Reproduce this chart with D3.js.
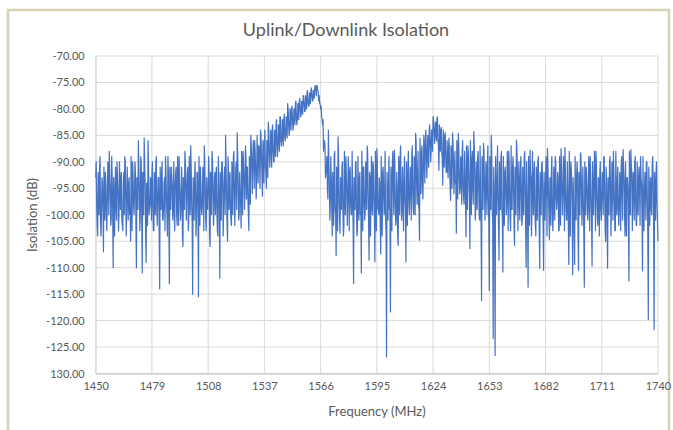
<!DOCTYPE html>
<html><head><meta charset="utf-8">
<script src="https://cdn.jsdelivr.net/npm/d3@7"></script>
<style>
html,body{margin:0;padding:0;background:#fff;}
svg{display:block;}
</style></head>
<body>
<div id="chart"></div>
<script>
const title = "Uplink/Downlink Isolation";
const xTitle = "Frequency (MHz)";
const yTitle = "Isolation (dB)";
const xTicks = [1450,1479,1508,1537,1566,1595,1624,1653,1682,1711,1740];
const yTicks = [-70,-75,-80,-85,-90,-95,-100,-105,-110,-115,-120,-125,-130];
const yTickLabels = ["-70.00","-75.00","-80.00","-85.00","-90.00","-95.00","-100.00","-105.00","-110.00","-115.00","-120.00","-125.00","130.00"];
const freqStart = 1450; // MHz
// samples at whole MHz (1450..1740)
const isolationWhole = [
-93,-104,-91,-99,-107,-92,-97,-88,-101,-110,
-95,-90,-100,-93,-103,-89,-98,-94,-105,-90,
-96,-110,-86,-100,-111,-85.5,-109,-86,-98,-92,
-103,-90,-97,-114,-92,-99,-89,-104,-113,-91,
-97,-94,-102,-89,-99,-106,-88,-96,-101,-87,
-115,-93,-100,-115.5,-91,-98,-87,-103,-95,-106,
-88,-99,-93,-104,-112,-90,-98,-85,-105,-94,
-102,-89,-96,-84.5,-100,-102.5,-88,-95,-91,-103,
-85,-91,-86,-93,-87,-84,-96.5,-86,-95,-82.5,
-89,-84,-90,-83,-87,-81.5,-86,-82,-85,-79,
-84,-80,-83,-79,-82,-78.5,-81,-77.5,-80.5,-77,
-79.5,-76.5,-78.5,-75.8,-75.5,-78.5,-80,-83,-86,-91,
-84,-98,-104,-89,-107.7,-85.3,-103.5,-91,-102.3,-89,
-97,-92,-100,-113,-90,-103,-93,-111,-91,-99,
-87,-108.6,-95,-90,-108.9,-87.5,-100,-107.4,-92,-97,
-126.9,-94,-118.4,-90,-87.8,-101,-105.8,-88.7,-97,-93,
-108.9,-91,-96,-89,-100,-84.6,-93,-104.8,-88,-91,
-86,-90,-84,-88,-81.4,-85.5,-81.8,-91.6,-84,-94.4,
-85,-92,-87,-97.3,-84.5,-93,-103.5,-84.6,-95,-88,
-98,-104.2,-87,-106.4,-90,-84.3,-99,-89,-101,-116.2,
-86.5,-97,-91,-114.3,-85,-123.4,-126.6,-93,-108.6,-89,
-110.8,-92,-98,-88,-103,-91,-105.8,-85.9,-97,-92,
-101,-89,-109.9,-113.7,-87.8,-99,-92,-104,-90,-110.1,
-90.6,-110.5,-94,-87.5,-104.7,-92,-100,-89,-97,-103,
-87.5,-95,-87.3,-101,-109.4,-90,-111.3,-109.4,-93,-110.5,
-88.3,-96,-113.7,-91,-99,-89,-109.7,-94,-88,-102,
-92,-97,-89,-105,-110.1,-90,-98,-88,-103,-94,
-99,-91,-87.7,-104,-93,-112.5,-87.7,-97,-90,-102,
-93,-89,-110.6,-96,-90,-119.8,-94,-91,-121.7,-92,
-105
];
// samples at f+0.25 MHz (1450.25..1739.25)
const isolationQ1 = [
-90,-92,-89,-93,-91,-94,-90,-92,-89,-93,
-91,-93,-90,-92,-94,-90,-91,-93,-89,-92,
-90,-93,-91,-89,-92,-90,-94,-91,-93,-90,
-92,-89,-93,-91,-90,-94,-92,-89,-91,-93,
-90,-92,-89,-94,-91,-93,-90,-92,-89,-91,
-93,-90,-92,-89,-94,-91,-90,-93,-89,-92,
-90,-93,-91,-89,-92,-90,-94,-91,-89,-92,
-90,-88,-91,-89,-92,-88,-90,-87,-91,-89,
-87,-86,-88,-85,-87,-85,-86,-84,-86,-84,
-84,-83,-84,-82,-83,-81.5,-82,-81,-81.5,-80,
-80,-79.5,-80,-78.5,-79,-78,-78.5,-77.5,-77.5,-76.5,
-77,-76,-76.5,-75.6,-75.8,-77.5,-79.5,-82,-87,-89,
-90,-89,-92,-88,-91,-89,-93,-90,-88,-92,
-89,-91,-88,-93,-90,-89,-92,-88,-91,-90,
-88,-92,-89,-91,-88,-90,-93,-89,-91,-88,
-92,-89,-91,-88,-90,-92,-89,-87,-91,-89,
-90,-88,-91,-87,-89,-86,-88,-85.5,-87,-85,
-84,-85,-83,-84,-82,-82.5,-81.5,-83,-83.5,-84,
-84.5,-86,-85.5,-87,-86,-88,-86,-87,-89,-86,
-88,-87,-89,-86,-88,-87,-90,-88,-87,-89,
-88,-90,-87,-89,-88,-91,-89,-87,-90,-88,
-89,-91,-88,-90,-87,-89,-91,-88,-90,-89,
-91,-88,-90,-89,-92,-88,-90,-91,-89,-92,
-90,-92,-89,-91,-93,-89,-91,-90,-92,-89,
-91,-89,-92,-90,-88,-91,-93,-89,-90,-92,
-89,-91,-90,-93,-89,-92,-90,-88,-91,-93,
-90,-92,-89,-91,-93,-89,-90,-92,-88,-91,
-92,-89,-91,-90,-93,-88,-91,-92,-89,-90,
-91,-93,-89,-92,-90,-91,-93,-89,-92,-90
];
// samples at f+0.5 MHz (1450.5..1739.5)
const isolationHalf = [
-98,-95,-102,-94,-96,-100,-91,-95,-93,-97,
-99,-96,-94,-101,-92,-97,-95,-100,-93,-98,
-92,-97,-95,-90,-98,-94,-96,-100,-94,-99,
-94,-99,-93,-96,-101,-93,-97,-92,-99,-95,
-100,-91,-95,-97,-93,-99,-95,-91,-96,-98,
-94,-97,-92,-96,-99,-94,-95,-98,-92,-97,
-95,-92,-99,-94,-97,-93,-91,-96,-92,-99,
-93,-95,-90,-94,-96,-91,-93,-89,-97,-92,
-90,-88,-92,-89,-91,-89,-88,-91,-87,-88,
-86,-88,-85,-87,-84,-86,-83,-85,-82,-83,
-81,-82,-80,-82,-79,-80,-79,-79,-78,-79,
-77,-77.5,-76.5,-76,-76.5,-79,-81.5,-88,-93,-95,
-94,-93,-97,-99,-95,-97,-94,-99,-95,-96,
-93,-98,-95,-97,-99,-96,-100,-94,-98,-95,
-96,-93,-99,-97,-95,-99,-94,-98,-96,-101,
-97,-99,-96,-94,-98,-95,-93,-96,-99,-97,
-95,-97,-93,-95,-91,-94,-98,-92,-94,-89,
-88,-87,-86,-84,-83.5,-83,-86,-85,-88,-87,
-89,-90,-91,-89,-90,-94,-91,-93,-90,-95,
-92,-94,-93,-91,-95,-92,-96,-94,-97,-93,
-95,-92,-97,-96,-99,-94,-97,-96,-94,-99,
-96,-95,-93,-97,-99,-94,-96,-92,-98,-95,
-97,-94,-96,-98,-93,-95,-99,-94,-96,-97,
-95,-98,-93,-96,-94,-99,-95,-97,-93,-98,
-96,-92,-98,-95,-97,-94,-99,-96,-92,-97,
-95,-98,-94,-96,-93,-97,-95,-92,-97,-94,
-99,-93,-96,-94,-98,-95,-92,-97,-95,-99,
-94,-96,-93,-98,-95,-97,-92,-95,-98,-94,
-96,-94,-99,-93,-97,-95,-99,-93,-96,-98
];
// samples at f+0.75 MHz (1450.75..1739.75)
const isolationQ3 = [
-102,-100,-104,-99,-101,-103,-100,-102,-99,-104,
-101,-103,-99,-102,-100,-104,-101,-99,-103,-100,
-102,-99,-103,-101,-100,-104,-102,-99,-101,-103,
-100,-102,-104,-99,-101,-103,-100,-102,-99,-101,
-103,-100,-102,-101,-104,-99,-101,-103,-100,-102,
-101,-104,-99,-102,-100,-103,-101,-99,-104,-100,
-102,-100,-103,-99,-101,-104,-100,-102,-99,-101,
-100,-102,-99,-101,-98,-100,-99,-97,-100,-98,
-96,-95,-97,-94,-95,-93,-94,-92,-93,-91,
-91,-90,-89,-89,-88,-87,-87,-86,-85.5,-85,
-84,-84,-83,-83,-82,-81.5,-81,-80.5,-80,-79.5,
-79,-78.5,-78,-77.5,-77,-79,-82,-86,-92,-97,
-101,-99,-102,-100,-103,-101,-99,-104,-100,-102,
-103,-100,-102,-99,-104,-101,-100,-103,-101,-99,
-102,-104,-100,-101,-103,-99,-102,-104,-100,-103,
-101,-99,-103,-100,-102,-104,-100,-101,-103,-99,
-102,-100,-101,-99,-100,-98,-99,-96,-97,-94,
-93,-91,-90,-88,-86.5,-86,-87,-88,-89.5,-91,
-92,-93,-94,-95,-96,-94,-97,-96,-98,-97,
-98,-99,-97,-100,-98,-101,-99,-100,-102,-99,
-101,-100,-102,-99,-101,-103,-100,-102,-99,-101,
-102,-100,-103,-101,-99,-102,-100,-103,-101,-102,
-100,-103,-101,-102,-104,-100,-102,-101,-103,-100,
-102,-101,-104,-100,-102,-103,-101,-99,-103,-102,
-100,-103,-101,-102,-104,-100,-102,-101,-103,-100,
-102,-104,-100,-101,-103,-102,-100,-103,-101,-104,
-101,-100,-103,-102,-100,-104,-101,-103,-100,-102,
-103,-101,-100,-104,-102,-100,-103,-101,-102,-100,
-102,-100,-103,-101,-104,-102,-100,-103,-101,-102
];
const data = [];
isolationWhole.forEach((v,i)=>{
  data.push({f:freqStart+i, v:v});
  if (i < isolationHalf.length) {
    data.push({f:freqStart+i+0.25, v:isolationQ1[i]});
    data.push({f:freqStart+i+0.5, v:isolationHalf[i]});
    data.push({f:freqStart+i+0.75, v:isolationQ3[i]});
  }
});

const W=673,H=430;
const svg=d3.select("#chart").append("svg").attr("width",W).attr("height",H);
const font="Lato, 'Open Sans', sans-serif";

// outer chart frame
svg.append("rect").attr("x",8).attr("y",10).attr("width",661).attr("height",430)
  .attr("fill","#fff").attr("stroke","#d8d2b4").attr("stroke-width",2.5);

const m={l:95.7,r:658,t:56,b:373.5};
const x=d3.scaleLinear().domain([1450,1740]).range([m.l,m.r]);
const y=d3.scaleLinear().domain([-70,-130]).range([m.t,m.b]);

// gridlines
svg.append("g").selectAll("line").data(yTicks).join("line")
  .attr("x1",m.l).attr("x2",m.r).attr("y1",d=>y(d)).attr("y2",d=>y(d))
  .attr("stroke","#d9d9d9").attr("stroke-width",1);
svg.append("g").selectAll("line").data(xTicks).join("line")
  .attr("x1",d=>x(d)).attr("x2",d=>x(d)).attr("y1",m.t).attr("y2",m.b)
  .attr("stroke","#d9d9d9").attr("stroke-width",1);

// axes
const xAxis=d3.axisBottom(x).tickValues(xTicks).tickSize(0).tickPadding(9).tickFormat(d3.format("d"));
const gx=svg.append("g").attr("transform",`translate(0,${m.b})`).call(xAxis);
gx.select(".domain").attr("stroke","#bfbfbf");
gx.selectAll("text").attr("fill","#595959").style("font-family",font).style("font-size","11px");

const yAxis=d3.axisLeft(y).tickValues(yTicks).tickSize(0).tickPadding(11)
  .tickFormat((d,i)=>yTickLabels[i]);
const gy=svg.append("g").attr("transform",`translate(${m.l},0)`).call(yAxis);
gy.select(".domain").attr("stroke","#d9d9d9");
gy.selectAll("text").attr("fill","#595959").style("font-family",font).style("font-size","11px");

// line
const line=d3.line().x(d=>x(d.f)).y(d=>y(d.v));
svg.append("path").datum(data).attr("d",line).attr("fill","none")
  .attr("stroke","#4472c4").attr("stroke-width",1.2).attr("stroke-linejoin","round");

// titles
svg.append("text").attr("x",346).attr("y",36).attr("text-anchor","middle")
  .attr("fill","#595959").style("font-family",font).style("font-size","18px").text(title);
svg.append("text").attr("x",377).attr("y",416).attr("text-anchor","middle")
  .attr("fill","#595959").style("font-family",font).style("font-size","13px").text(xTitle);
svg.append("text").attr("transform","translate(37,215) rotate(-90)").attr("text-anchor","middle")
  .attr("fill","#595959").style("font-family",font).style("font-size","13px").text(yTitle);
</script>
</body></html>
